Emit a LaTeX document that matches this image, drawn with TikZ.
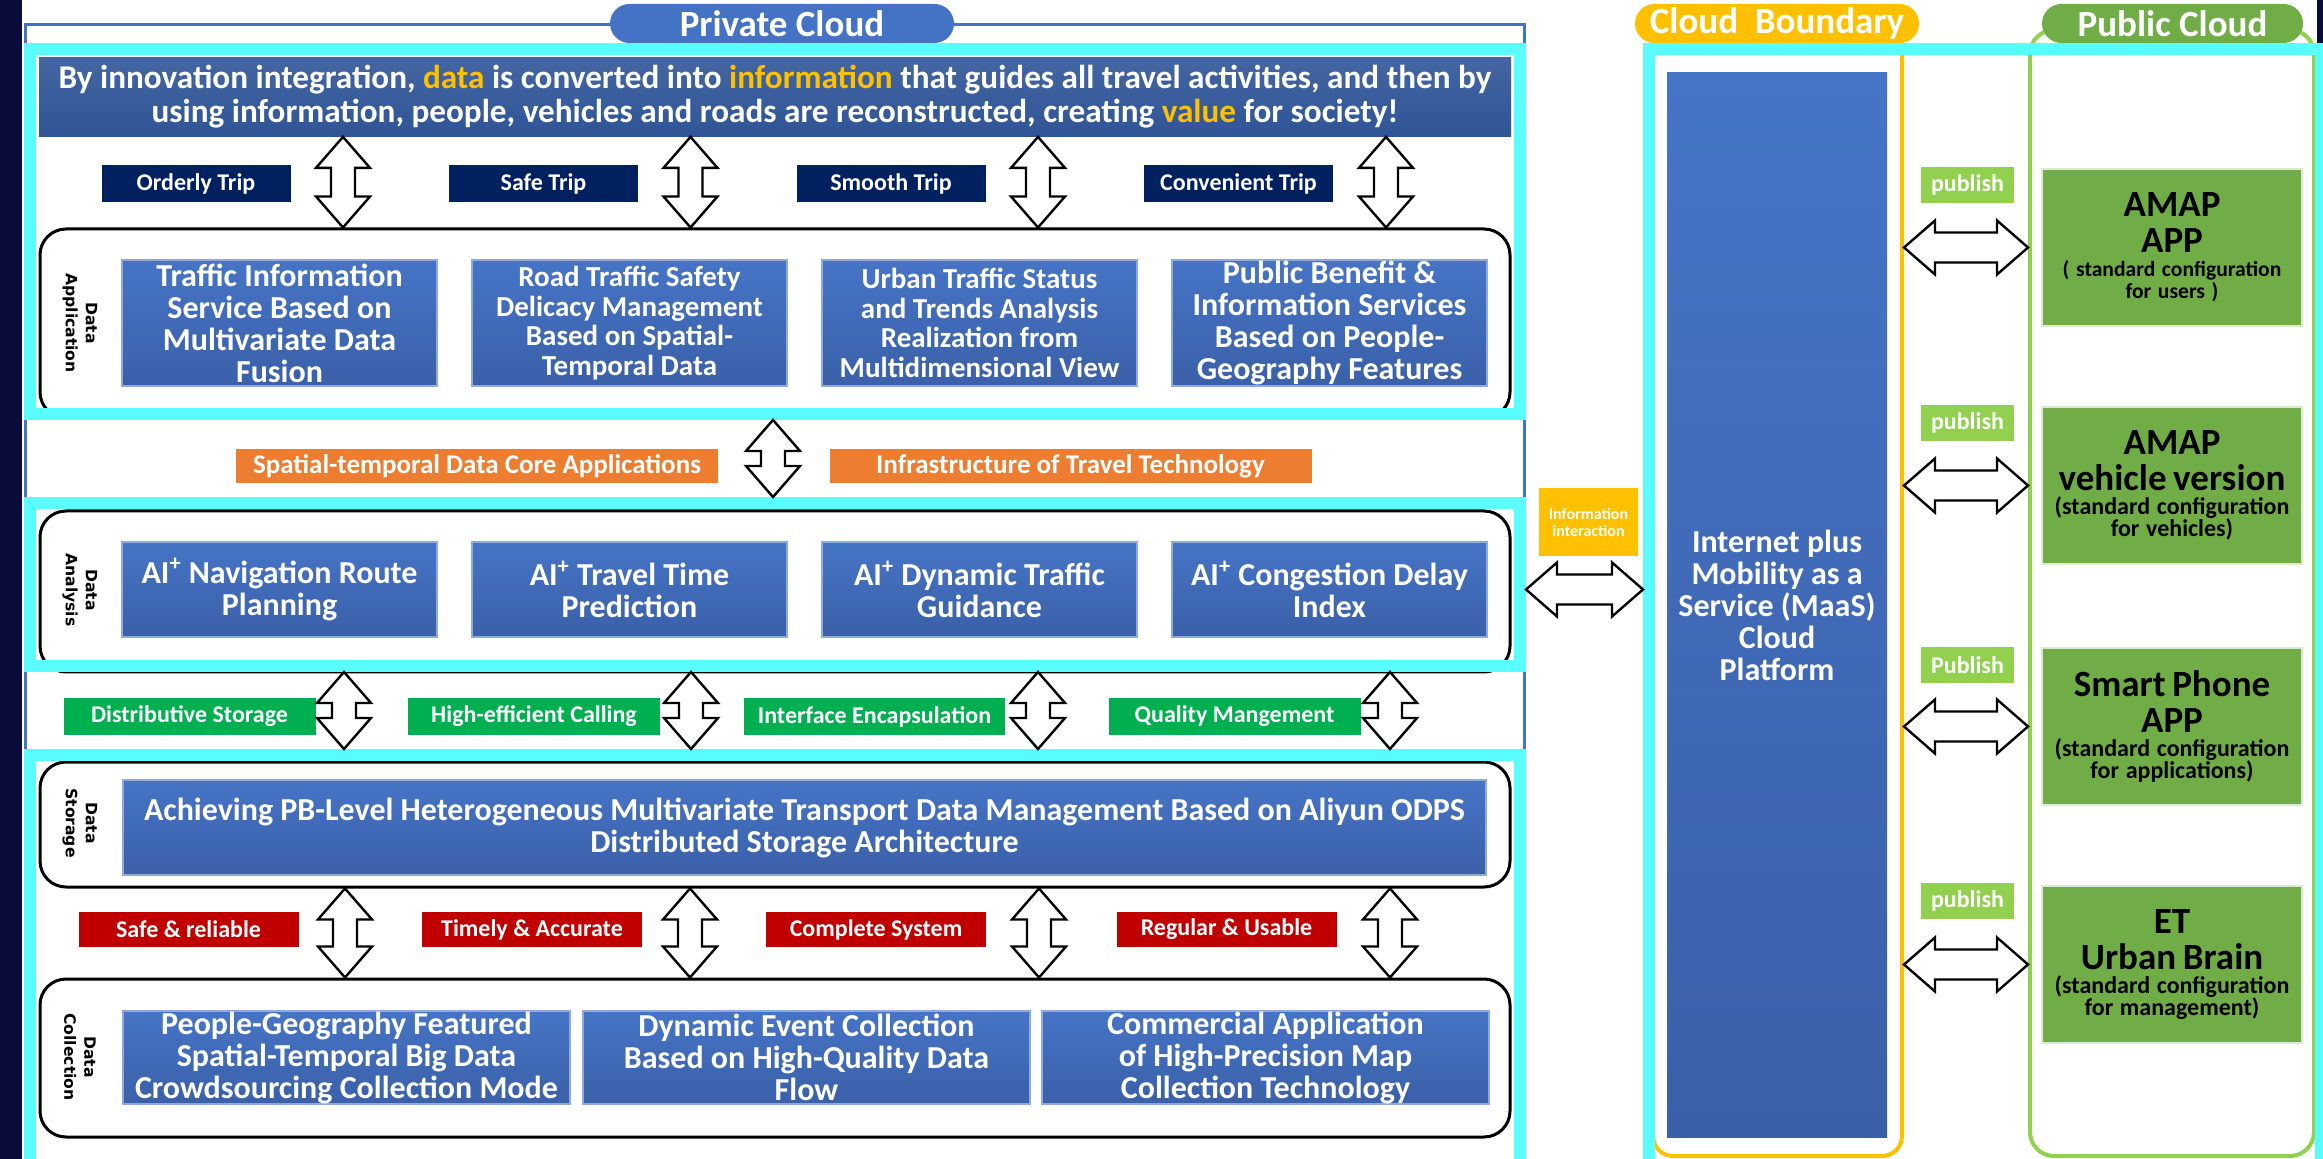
\documentclass[tikz,border=0pt]{standalone}
\usepackage{fontspec}
\setmainfont{Carlito}
\newfontfamily\sidefont{DejaVu Sans}
\usetikzlibrary{calc}

\definecolor{edgenavy}{HTML}{0A0D3A}
\definecolor{cyanline}{HTML}{5AFDFD}
\definecolor{frameblue}{HTML}{4472C4}
\definecolor{bannerblue}{HTML}{2F5597}
\definecolor{boxtop}{HTML}{4674C6}
\definecolor{boxbot}{HTML}{3A60A8}
\definecolor{boxedge}{HTML}{8FAADC}
\definecolor{navylbl}{HTML}{002060}
\definecolor{orangelbl}{HTML}{ED7D31}
\definecolor{greenlbl}{HTML}{00B050}
\definecolor{redlbl}{HTML}{C00000}
\definecolor{gold}{HTML}{FFC000}
\definecolor{pubgreen}{HTML}{70AD47}
\definecolor{lightgreen}{HTML}{92D050}

\def\px{0.5pt}
\def\headW{13.5pt}
\def\headL{15.5pt}
\def\shaftV{6pt}
\def\shaftH{7.5pt}

%vertical block arrow with two heads, from top point #1 to bottom point #2
\newcommand{\vdarrow}[2]{
	\draw[blockarrow] let \p1=#1, \p2=#2 in
		(\x1,\y1) -- (\x1+\headW,\y1-\headL) -- (\x1+\shaftV,\y1-\headL) -- (\x1+\shaftV,\y2+\headL) -- (\x1+\headW,\y2+\headL)
		-- (\x1,\y2) -- (\x1-\headW,\y2+\headL) -- (\x1-\shaftV,\y2+\headL) -- (\x1-\shaftV,\y1-\headL) -- (\x1-\headW,\y1-\headL) -- cycle;
}
%horizontal block arrow with two heads, from left point #1 to right point #2
\newcommand{\hdarrow}[2]{
	\draw[blockarrow] let \p1=#1, \p2=#2 in
		(\x1,\y1) -- (\x1+\headL,\y1+\headW) -- (\x1+\headL,\y1+\shaftH) -- (\x2-\headL,\y1+\shaftH) -- (\x2-\headL,\y1+\headW)
		-- (\x2,\y1) -- (\x2-\headL,\y1-\headW) -- (\x2-\headL,\y1-\shaftH) -- (\x1+\headL,\y1-\shaftH) -- (\x1+\headL,\y1-\headW) -- cycle;
}
\newcommand{\apptext}[4]{{\fontsize{18.5}{18}\selectfont #1\\#2\par}\vspace{1pt}{\fontsize{12}{11}\selectfont #3\\#4\par}}

\tikzset{
	cyanlayer/.style={draw=cyanline, line width=6pt, minimum width=1490*\px, inner sep=0pt},
	layerframe/.style={draw=black, line width=1.5pt, rounded corners=13pt, minimum width=1470*\px, inner sep=0pt},
	titlepill/.style={rounded corners=9.75pt, text=white, font=\fontsize{18.5}{18.5}\selectfont\bfseries, minimum height=39*\px, inner sep=0pt},
	labeltag/.style={text=white, font=\fontsize{12}{12}\selectfont\bfseries, minimum height=37*\px, inner sep=0pt},
	bluebox/.style={top color=boxtop, bottom color=boxbot, draw=boxedge, line width=0.6pt, text=white, align=center, minimum width=315*\px, inner sep=0pt, font=\fontsize{16}{16}\selectfont\bfseries},
	sidelabel/.style={rotate=-90, align=center, font=\sidefont\bfseries\fontsize{7.8}{10}\selectfont},
	appbox/.style={fill=pubgreen, draw=white!75!pubgreen, line width=0.6pt, text width=250*\px, align=center, minimum width=260*\px, minimum height=157*\px, inner sep=0pt, font=\bfseries},
	blockarrow/.style={draw=black, fill=white, line width=1.2pt, line join=miter},
}

\begin{document}
\begin{tikzpicture}[x=\px, y=-\px]
	\useasboundingbox (0,0) rectangle (2323,1159);
	\clip (0,0) rectangle (2323,1159);
	\fill[white] (0,0) rectangle (2323,1159);

	%dark edges of the slide
	\fill[edgenavy] (0,0) rectangle (22,1159);
	\fill[edgenavy] (2317,0) rectangle (2323,43);

	%private cloud outline
	\draw[frameblue, line width=1.5pt] (25,1170) -- (25,25) -- (1524,25) -- (1524,1170);

	%rounded frames of the layers
	\node[layerframe, minimum height=189*\px] (appframe) at (775,323.5) {};
	\node[layerframe, minimum height=161*\px] (anaframe) at (775,591.5) {};
	\node[layerframe, minimum height=125*\px] (storeframe) at (775,824.5) {};
	\node[layerframe, minimum height=158*\px] (collframe) at (775,1058) {};

	%cyan layer boxes
	\node[cyanlayer, minimum height=365*\px] (layer1) at (775,231.5) {};
	\node[cyanlayer, minimum height=163*\px] (layer2) at (775,584.5) {};
	\node[cyanlayer, minimum height=445*\px] (layer3) at (775,977.5) {};

	%mission statement
	\node[top color=bannerblue!90!white, bottom color=bannerblue, minimum width=1472*\px, minimum height=79*\px, inner sep=0pt, text=white, align=center, font=\fontsize{16.6}{17}\selectfont\bfseries] (banner) at (775,97)
		{By innovation integration, {\color{gold}data} is converted into {\color{gold}information} that guides all travel activities, and then by\\
		using information, people, vehicles and roads are reconstructed, creating {\color{gold}value} for society!};

	%trip goals
	\node[labeltag, fill=navylbl, minimum width=189*\px] (trip1) at (196,184) {Orderly Trip};
	\node[labeltag, fill=navylbl, minimum width=189*\px] (trip2) at (543.5,184) {Safe Trip};
	\node[labeltag, fill=navylbl, minimum width=189*\px] (trip3) at (891,184) {Smooth Trip};
	\node[labeltag, fill=navylbl, minimum width=189*\px] (trip4) at (1238.5,184) {Convenient Trip};
	\foreach \ax in {343, 690.5, 1038, 1386}
		{\vdarrow{(\ax,0 |- banner.south)}{(\ax,0 |- appframe.north)}}

	%data application
	\node[sidelabel] (sideapp) at (80,323) {Data\\Application};
	\node[bluebox, minimum height=126*\px] (use1) at (279.5,323) {Traffic Information\\Service Based on\\Multivariate Data\\Fusion};
	\node[bluebox, minimum height=126*\px, font=\fontsize{14.5}{14.7}\selectfont\bfseries] (use2) at (629.5,323) {Road Traffic Safety\\Delicacy Management\\Based on Spatial-\\Temporal Data};
	\node[bluebox, minimum height=126*\px, font=\fontsize{14.5}{14.7}\selectfont\bfseries] (use3) at (979.5,323) {Urban Traffic Status\\and Trends Analysis\\Realization from\\Multidimensional View};
	\node[bluebox, minimum height=126*\px] (use4) at (1329.5,323) {Public Benefit \&\\Information Services\\Based on People-\\Geography Features};

	%core applications
	\node[labeltag, fill=orangelbl, minimum width=482*\px, minimum height=34*\px, font=\fontsize{13.5}{13.5}\selectfont\bfseries] (core1) at (477,466) {Spatial-temporal Data Core Applications};
	\node[labeltag, fill=orangelbl, minimum width=482*\px, minimum height=34*\px, font=\fontsize{13.5}{13.5}\selectfont\bfseries] (core2) at (1070.5,466) {Infrastructure of Travel Technology};
	\vdarrow{(layer1.south -| 773,0)}{(layer2.north -| 773,0)}

	%data analysis
	\node[sidelabel] (sideana) at (80,590) {Data\\Analysis};
	\node[bluebox, minimum height=95*\px] (ai1) at (279.5,589.5) {AI\textsuperscript{+} Navigation Route\\Planning};
	\node[bluebox, minimum height=95*\px] (ai2) at (629.5,589.5) {AI\textsuperscript{+} Travel Time\\Prediction};
	\node[bluebox, minimum height=95*\px] (ai3) at (979.5,589.5) {AI\textsuperscript{+} Dynamic Traffic\\Guidance};
	\node[bluebox, minimum height=95*\px] (ai4) at (1329.5,589.5) {AI\textsuperscript{+} Congestion Delay\\Index};

	%service features
	\node[labeltag, fill=greenlbl, minimum width=252*\px] (feat1) at (189.5,716.5) {Distributive Storage};
	\node[labeltag, fill=greenlbl, minimum width=252*\px] (feat2) at (534,716.5) {High-efficient Calling};
	\node[labeltag, fill=greenlbl, minimum width=261*\px] (feat3) at (874.5,716.5) {Interface Encapsulation};
	\node[labeltag, fill=greenlbl, minimum width=252*\px] (feat4) at (1234.5,716.5) {Quality Mangement};
	\foreach \ax in {344, 691, 1038, 1390}
		{\vdarrow{(\ax,0 |- layer2.south)}{(\ax,0 |- layer3.north)}}

	%data storage
	\node[sidelabel] (sidestore) at (80,823) {Data\\Storage};
	\node[bluebox, minimum width=1363*\px, minimum height=95*\px] (store) at (804.5,827.5) {Achieving PB-Level Heterogeneous Multivariate Transport Data Management Based on Aliyun ODPS\\Distributed Storage Architecture};

	%data quality
	\node[labeltag, fill=redlbl, minimum width=220*\px, minimum height=35*\px] (qual1) at (188.5,929.5) {Safe \& reliable};
	\node[labeltag, fill=redlbl, minimum width=220*\px, minimum height=35*\px] (qual2) at (532,929.5) {Timely \& Accurate};
	\node[labeltag, fill=redlbl, minimum width=220*\px, minimum height=35*\px] (qual3) at (876,929.5) {Complete System};
	\node[labeltag, fill=redlbl, minimum width=220*\px, minimum height=35*\px] (qual4) at (1226.5,929.5) {Regular \& Usable};
	\foreach \ax in {345, 690, 1039, 1390}
		{\vdarrow{(\ax,0 |- storeframe.south)}{(\ax,0 |- collframe.north)}}

	%data collection
	\node[sidelabel] (sidecoll) at (80,1057) {Data\\Collection};
	\node[bluebox, minimum width=447*\px, minimum height=93*\px] (coll1) at (346.5,1057.5) {People-Geography Featured\\Spatial-Temporal Big Data\\Crowdsourcing Collection Mode};
	\node[bluebox, minimum width=447*\px, minimum height=93*\px] (coll2) at (806.5,1057.5) {Dynamic Event Collection\\Based on High-Quality Data\\Flow};
	\node[bluebox, minimum width=447*\px, minimum height=93*\px] (coll3) at (1265.5,1057.5) {Commercial Application\\of High-Precision Map\\Collection Technology};

	%cloud boundary and public cloud
	\node[draw=gold, line width=2pt, rounded corners=10pt, minimum width=249*\px, minimum height=1126*\px] (bndframe) at (1777.5,593) {};
	\node[draw=lightgreen, line width=2pt, rounded corners=12pt, minimum width=284*\px, minimum height=1126*\px] (pubframe) at (2172,593) {};
	\node[cyanlayer, minimum width=672*\px, minimum height=1151*\px] (layer4) at (1985,624.5) {};
	\node[bluebox, minimum width=220*\px, minimum height=1064*\px, draw=none] (maas) at (1777,605) {Internet plus\\Mobility as a\\Service (MaaS)\\Cloud\\Platform};

	%information interaction with the private cloud
	\node[fill=gold, text=white, align=center, minimum width=99*\px, minimum height=68*\px, inner sep=0pt, font=\fontsize{8}{8.5}\selectfont\bfseries] (info) at (1588.5,522) {Information\\interaction};
	\hdarrow{(layer2.east |- ai4)}{(layer4.west |- ai4)}

	%published applications
	\node[appbox] (app1) at (2172,247.5) {\apptext{AMAP}{APP}{\fontsize{10.8}{11}\selectfont ( standard configuration}{for users )}};
	\node[appbox] (app2) at (2172,485.5) {\apptext{AMAP}{vehicle version}{(standard configuration}{for vehicles)}};
	\node[appbox] (app3) at (2172,726.5) {\apptext{Smart Phone}{APP}{(standard configuration}{for applications)}};
	\node[appbox] (app4) at (2172,964.5) {\apptext{ET}{Urban Brain}{(standard configuration}{for management)}};
	\node[labeltag, fill=lightgreen, minimum width=93*\px, minimum height=36*\px] (pub1) at (1967.5,185) {publish};
	\node[labeltag, fill=lightgreen, minimum width=93*\px, minimum height=36*\px] (pub2) at (1967.5,423) {publish};
	\node[labeltag, fill=lightgreen, minimum width=93*\px, minimum height=36*\px] (pub3) at (1967.5,665) {Publish};
	\node[labeltag, fill=lightgreen, minimum width=93*\px, minimum height=36*\px] (pub4) at (1967.5,901) {publish};
	\foreach \i in {1,...,4}
		{\hdarrow{(bndframe.east |- app\i.west)}{(pubframe.west |- app\i.west)}}

	%titles
	\node[titlepill, fill=frameblue, minimum width=344*\px] (privtitle) at (782,23.5) {Private Cloud};
	\node[titlepill, fill=gold, minimum width=284*\px] (bndtitle) at (1777,23.5) {Cloud~~Boundary};
	\node[titlepill, fill=pubgreen, minimum width=261*\px] (pubtitle) at (2172.5,23.5) {Public Cloud};
\end{tikzpicture}
\end{document}
